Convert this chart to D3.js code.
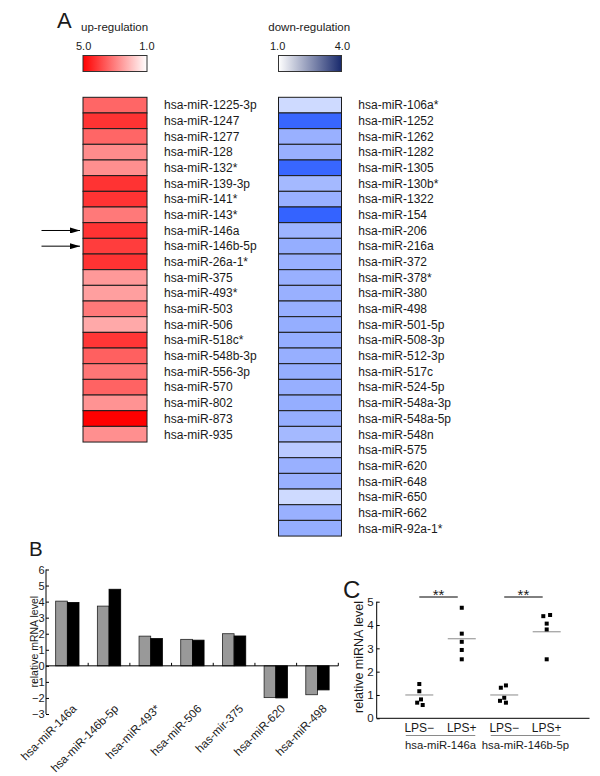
<!DOCTYPE html>
<html><head><meta charset="utf-8">
<script src="https://cdn.jsdelivr.net/npm/d3@7"></script>
<style>body{margin:0;background:#fff}svg{display:block;font-family:"Liberation Sans",Arial,sans-serif}</style>
</head><body><svg id="c" width="600" height="776"></svg>
<script>
// ---------- Panel A data ----------
const upGenes = ["hsa-miR-1225-3p","hsa-miR-1247","hsa-miR-1277","hsa-miR-128","hsa-miR-132*","hsa-miR-139-3p","hsa-miR-141*","hsa-miR-143*","hsa-miR-146a","hsa-miR-146b-5p","hsa-miR-26a-1*","hsa-miR-375","hsa-miR-493*","hsa-miR-503","hsa-miR-506","hsa-miR-518c*","hsa-miR-548b-3p","hsa-miR-556-3p","hsa-miR-570","hsa-miR-802","hsa-miR-873","hsa-miR-935"];
const upValues = [3.4,4.2,3.4,2.8,2.75,4.2,4.2,3.1,4.2,4.05,4.2,2.6,2.5,3.1,2.35,4.15,3.5,3.15,3.45,2.7,5.0,2.75];
const downGenes = ["hsa-miR-106a*","hsa-miR-1252","hsa-miR-1262","hsa-miR-1282","hsa-miR-1305","hsa-miR-130b*","hsa-miR-1322","hsa-miR-154","hsa-miR-206","hsa-miR-216a","hsa-miR-372","hsa-miR-378*","hsa-miR-380","hsa-miR-498","hsa-miR-501-5p","hsa-miR-508-3p","hsa-miR-512-3p","hsa-miR-517c","hsa-miR-524-5p","hsa-miR-548a-3p","hsa-miR-548a-5p","hsa-miR-548n","hsa-miR-575","hsa-miR-620","hsa-miR-648","hsa-miR-650","hsa-miR-662","hsa-miR-92a-1*"];
const downValues = [1.6,3.45,2.26,2.26,3.45,2.12,2.26,3.5,2.2,2.3,2.26,2.26,2.26,2.28,2.3,2.3,2.28,2.3,2.28,2.3,2.3,2.12,1.85,2.26,2.26,1.6,2.26,2.3];
const arrowed = ["hsa-miR-146a","hsa-miR-146b-5p"];
const upLegendTicks = ["5.0","1.0"];
const downLegendTicks = ["1.0","4.0"];

// ---------- Panel B data ----------
const bCats = ["hsa-miR-146a","hsa-miR-146b-5p","hsa-miR-493*","hsa-miR-506","has-mir-375","hsa-miR-620","hsa-miR-498"];
const bGray = [4.03,3.72,1.85,1.65,2.0,-1.98,-1.8];
const bBlack = [3.95,4.77,1.7,1.6,1.86,-2.0,-1.5];
const bTicks = [-3,-2,-1,0,1,2,3,4,5,6];

// ---------- Panel C data ----------
const cGroups = ["LPS\u2212","LPS+","LPS\u2212","LPS+"];
const cGenes = ["hsa-miR-146a","hsa-miR-146b-5p"];
const cPoints = [
  [1.47,1.16,0.81,0.67,0.57],
  [4.74,3.63,3.28,2.93,2.53],
  [1.41,1.31,0.88,0.75,0.67],
  [4.43,4.38,4.06,3.81,2.53]
];
const cJitter = [
  [0,0,0.04,-0.05,0.08],
  [0,0,0,0,0],
  [0.04,-0.08,0,-0.1,0.04],
  [0.08,-0.08,0,0,0]
];
const cMeans = [1.0,3.41,1.0,3.71];
const cTicks = [0,1,2,3,4,5];

const svg = d3.select("#c");
const ink = "#1a1a1a";

// ================= Panel A =================
svg.append("text").attr("x",57).attr("y",28).attr("font-size",22).attr("fill",ink).text("A");

const rowH = 15.67, heatTop = 97.3;
const upColor = d3.scaleLinear().domain([1,5]).range(["#ffffff","#ff0000"]);
const downCell = d3.scaleLinear().domain([1,4]).range(["#ffffff","#0b44ff"]);
const defs = svg.append("defs");
function grad(id, c0, c1){
  const g = defs.append("linearGradient").attr("id",id);
  g.append("stop").attr("offset","0%").attr("stop-color",c0);
  g.append("stop").attr("offset","100%").attr("stop-color",c1);
}
grad("gUp","#ff0000","#ffffff");
grad("gDown","#ffffff","#18296c");
defs.append("marker").attr("id","arr").attr("viewBox","0 0 10 6").attr("refX",10).attr("refY",3)
  .attr("markerWidth",11).attr("markerHeight",6).attr("markerUnits","userSpaceOnUse").attr("orient","auto")
  .append("path").attr("d","M0,0L10,3L0,6Z").attr("fill","#000");

function heat(x0, w, genes, values, color, labelX, title, titleX, ticks, tickX0, tickX1, gradId){
  svg.append("text").attr("x",titleX).attr("y",31).attr("font-size",11.5).attr("fill",ink).text(title);
  svg.append("text").attr("x",tickX0).attr("y",50).attr("font-size",11).attr("fill",ink).text(ticks[0]);
  svg.append("text").attr("x",tickX1).attr("y",50).attr("font-size",11).attr("fill",ink).attr("text-anchor","end").text(ticks[1]);
  svg.append("rect").attr("x",x0).attr("y",55.5).attr("width",w).attr("height",16)
    .attr("fill",`url(#${gradId})`).attr("stroke","#333").attr("stroke-width",1);
  const y = d3.scaleBand().domain(genes).range([heatTop, heatTop + genes.length*rowH]);
  const g = svg.append("g");
  g.selectAll("rect").data(genes).join("rect")
    .attr("x",x0).attr("y",d=>y(d)).attr("width",w).attr("height",y.bandwidth())
    .attr("fill",(d,i)=>color(values[i])).attr("stroke","#1c1c1c").attr("stroke-width",1);
  g.selectAll("text").data(genes).join("text")
    .attr("x",labelX).attr("y",d=>y(d)+y.bandwidth()/2+4.3).attr("font-size",12).attr("fill",ink).text(d=>d);
  return y;
}
const yUp = heat(83,64,upGenes,upValues,upColor,164,"up-regulation",81,upLegendTicks,76,154.5,"gUp");
heat(278.5,63,downGenes,downValues,downCell,358.3,"down-regulation",268.3,downLegendTicks,270,350,"gDown");

svg.selectAll("line.arrow").data(arrowed).join("line").attr("class","arrow")
  .attr("x1",41.5).attr("x2",80).attr("y1",d=>yUp(d)+rowH/2).attr("y2",d=>yUp(d)+rowH/2)
  .attr("stroke","#000").attr("stroke-width",1).attr("marker-end","url(#arr)");

// ================= Panel B =================
svg.append("text").attr("x",29).attr("y",556).attr("font-size",20.5).attr("fill",ink).text("B");
const yB = d3.scaleLinear().domain([-3,6]).range([714,569.5]);
const xB = d3.scaleBand().domain(bCats).range([46.5,338.3]);
const bw = xB.bandwidth()*0.28;
const gB = svg.append("g");
gB.selectAll("rect.g").data(bCats).join("rect").attr("class","g")
  .attr("x",d=>xB(d)+xB.bandwidth()/2-bw).attr("width",bw)
  .attr("y",(d,i)=>yB(Math.max(0,bGray[i]))).attr("height",(d,i)=>Math.abs(yB(bGray[i])-yB(0)))
  .attr("fill","#999999").attr("stroke","#222").attr("stroke-width",0.8);
gB.selectAll("rect.k").data(bCats).join("rect").attr("class","k")
  .attr("x",d=>xB(d)+xB.bandwidth()/2).attr("width",bw)
  .attr("y",(d,i)=>yB(Math.max(0,bBlack[i]))).attr("height",(d,i)=>Math.abs(yB(bBlack[i])-yB(0)))
  .attr("fill","#000").attr("stroke","#000").attr("stroke-width",0.8);
// y axis
const axB = svg.append("g").attr("transform","translate(46,0)")
  .call(d3.axisRight(yB).tickValues(bTicks).tickSize(3).tickFormat(d3.format("d")));
axB.select(".domain").attr("d",`M0,${yB(6)}V${yB(-3)}`).attr("stroke","#000");
axB.selectAll(".tick line").attr("stroke","#000");
axB.selectAll(".tick text").attr("x",-1.5).attr("text-anchor","end").attr("font-size",11).attr("fill",ink)
  .attr("font-family","Liberation Sans, Arial, sans-serif");
// x axis at zero
const axX = svg.append("g").attr("transform",`translate(0,${yB(0)})`)
  .call(d3.axisTop(xB).tickSize(0).tickFormat(""));
axX.select(".domain").attr("d",`M46,0H${xB.range()[1]}`).attr("stroke","#000");
svg.append("g").selectAll("line").data(bCats).join("line")
  .attr("x1",d=>xB(d)+xB.step()).attr("x2",d=>xB(d)+xB.step())
  .attr("y1",yB(0)).attr("y2",yB(0)-3).attr("stroke","#000");
svg.append("g").selectAll("text").data(bCats).join("text")
  .attr("transform",d=>`translate(${xB(d)+xB.bandwidth()/2+10},709.5) rotate(-45)`)
  .attr("text-anchor","end").attr("font-size",11.6).attr("fill",ink).text(d=>d);
svg.append("text").attr("transform",`translate(37.5,${(yB(6)+yB(-3))/2}) rotate(-90)`)
  .attr("text-anchor","middle").attr("font-size",10.5).attr("fill",ink).text("relative mRNA level");

// ================= Panel C =================
svg.append("text").attr("x",343).attr("y",598).attr("font-size",24).attr("fill",ink).text("C");
const yC = d3.scaleLinear().domain([0,5]).range([718.3,601.7]);
const xC = d3.scalePoint().domain(d3.range(cGroups.length)).range([419.3,546.7]);
const stepC = xC.step();
const axC = svg.append("g").attr("transform","translate(376.7,0)")
  .call(d3.axisRight(yC).tickValues(cTicks).tickSize(3).tickFormat(d3.format("d")));
axC.select(".domain").attr("d",`M0,${yC(5)}V${yC(0)}`).attr("stroke","#000");
axC.selectAll(".tick line").attr("stroke","#000");
axC.selectAll(".tick text").attr("x",-3).attr("text-anchor","end").attr("font-size",11.5).attr("fill",ink)
  .attr("font-family","Liberation Sans, Arial, sans-serif");
svg.append("line").attr("x1",376.7).attr("x2",589.5).attr("y1",yC(0)).attr("y2",yC(0)).attr("stroke","#000").attr("stroke-width",1);
svg.append("text").attr("transform",`translate(363,${(yC(5)+yC(0))/2-3}) rotate(-90)`)
  .attr("text-anchor","middle").attr("font-size",12.5).attr("fill",ink).text("relative miRNA level");
// mean lines
svg.append("g").selectAll("line").data(cMeans).join("line")
  .attr("x1",(d,i)=>xC(i)-14).attr("x2",(d,i)=>xC(i)+14).attr("y1",d=>yC(d)).attr("y2",d=>yC(d))
  .attr("stroke","#8a8a8a").attr("stroke-width",1);
// points
const pts = cPoints.flatMap((arr,gi)=>arr.map((v,j)=>({g:gi,v,j:cJitter[gi][j]})));
svg.append("g").selectAll("rect").data(pts).join("rect")
  .attr("x",d=>xC(d.g)+d.j*stepC-2).attr("y",d=>yC(d.v)-2).attr("width",4).attr("height",4).attr("fill","#000");
// group labels
svg.append("g").selectAll("text").data(cGroups).join("text")
  .attr("x",(d,i)=>xC(i)).attr("y",732).attr("text-anchor","middle").attr("font-size",12).attr("fill",ink).text(d=>d);
svg.append("g").selectAll("line").data(cGenes).join("line")
  .attr("x1",(d,i)=>xC(2*i)-13.5).attr("x2",(d,i)=>xC(2*i+1)+13.5).attr("y1",735.5).attr("y2",735.5)
  .attr("stroke","#8a8a8a").attr("stroke-width",1);
svg.append("g").selectAll("text").data(cGenes).join("text")
  .attr("x",(d,i)=>(xC(2*i)+xC(2*i+1))/2).attr("y",748.5).attr("text-anchor","middle").attr("font-size",11.3).attr("fill",ink).text(d=>d);
// significance
svg.append("g").selectAll("line").data(cGenes).join("line")
  .attr("x1",(d,i)=>xC(2*i)).attr("x2",(d,i)=>xC(2*i+1)-4).attr("y1",597).attr("y2",597).attr("stroke","#000");
svg.append("g").selectAll("text").data(cGenes).join("text")
  .attr("x",(d,i)=>(xC(2*i)+xC(2*i+1))/2-2).attr("y",600).attr("text-anchor","middle").attr("font-size",15).attr("fill",ink).text("**");
</script></body></html>
